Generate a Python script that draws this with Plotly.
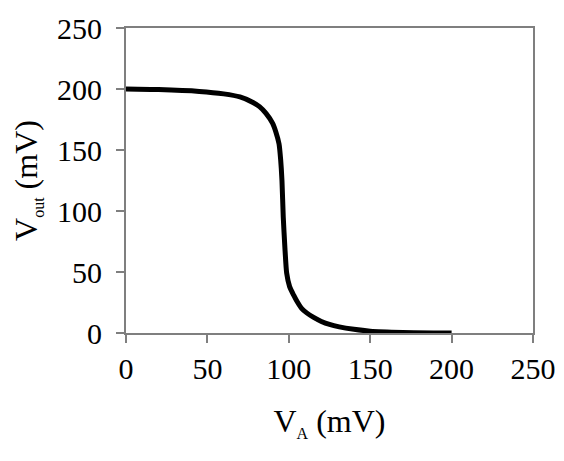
import plotly.graph_objects as go

# Transfer curve
va_mv = [0, 20, 45, 60, 70, 78, 82, 86, 90, 92, 94, 95, 95.8, 96.6, 97.6, 98.7, 100.5, 103, 105, 108, 111, 115, 120, 125, 131, 140, 150, 170, 200]
vout_mv = [200, 199.5, 198, 196, 193.5, 189, 185.5, 180, 172, 165, 155, 142, 125, 95, 70, 49, 38, 31, 26, 20, 16.5, 13, 9.5, 7, 5, 3, 1.5, 0.5, 0]

x_ticks = [0, 50, 100, 150, 200, 250]
y_ticks = [0, 50, 100, 150, 200, 250]

axis_gray = '#7f7f7f'
serif = 'Liberation Serif, Times New Roman, serif'
sub = '<sub><span style="font-size:16px">{}</span></sub>'

fig = go.Figure()

fig.add_trace(go.Scatter(
    x=va_mv,
    y=vout_mv,
    mode='lines',
    line=dict(color='black', width=5, shape='spline', smoothing=0.6),
    showlegend=False
))

common_axis = dict(
    showline=True,
    linecolor=axis_gray,
    linewidth=2,
    mirror=True,
    ticks='outside',
    ticklen=8,
    tickwidth=2,
    tickcolor=axis_gray,
    showgrid=False,
    zeroline=False,
    automargin=False,
    tickfont=dict(family=serif, size=30, color='black'),
)

# the page body has an 8px margin, so the figure is sized to fit inside it
fig.update_layout(
    width=556,
    height=453,
    margin=dict(l=118, r=31, t=20, b=128),
    plot_bgcolor='white',
    paper_bgcolor='white',
    font=dict(family=serif, color='black'),
    xaxis=dict(
        common_axis,
        range=[0, 250],
        tickvals=x_ticks,
        ticklabelstandoff=0,
        title=dict(text='V' + sub.format('A') + ' (mV)', font=dict(family=serif, size=32), standoff=26),
    ),
    yaxis=dict(
        common_axis,
        range=[0, 250],
        tickvals=y_ticks,
        ticklabelstandoff=8,
        title=dict(text='V' + sub.format('out') + ' (mV)', font=dict(family=serif, size=32), standoff=14),
    ),
)

fig.write_html("out.html")
